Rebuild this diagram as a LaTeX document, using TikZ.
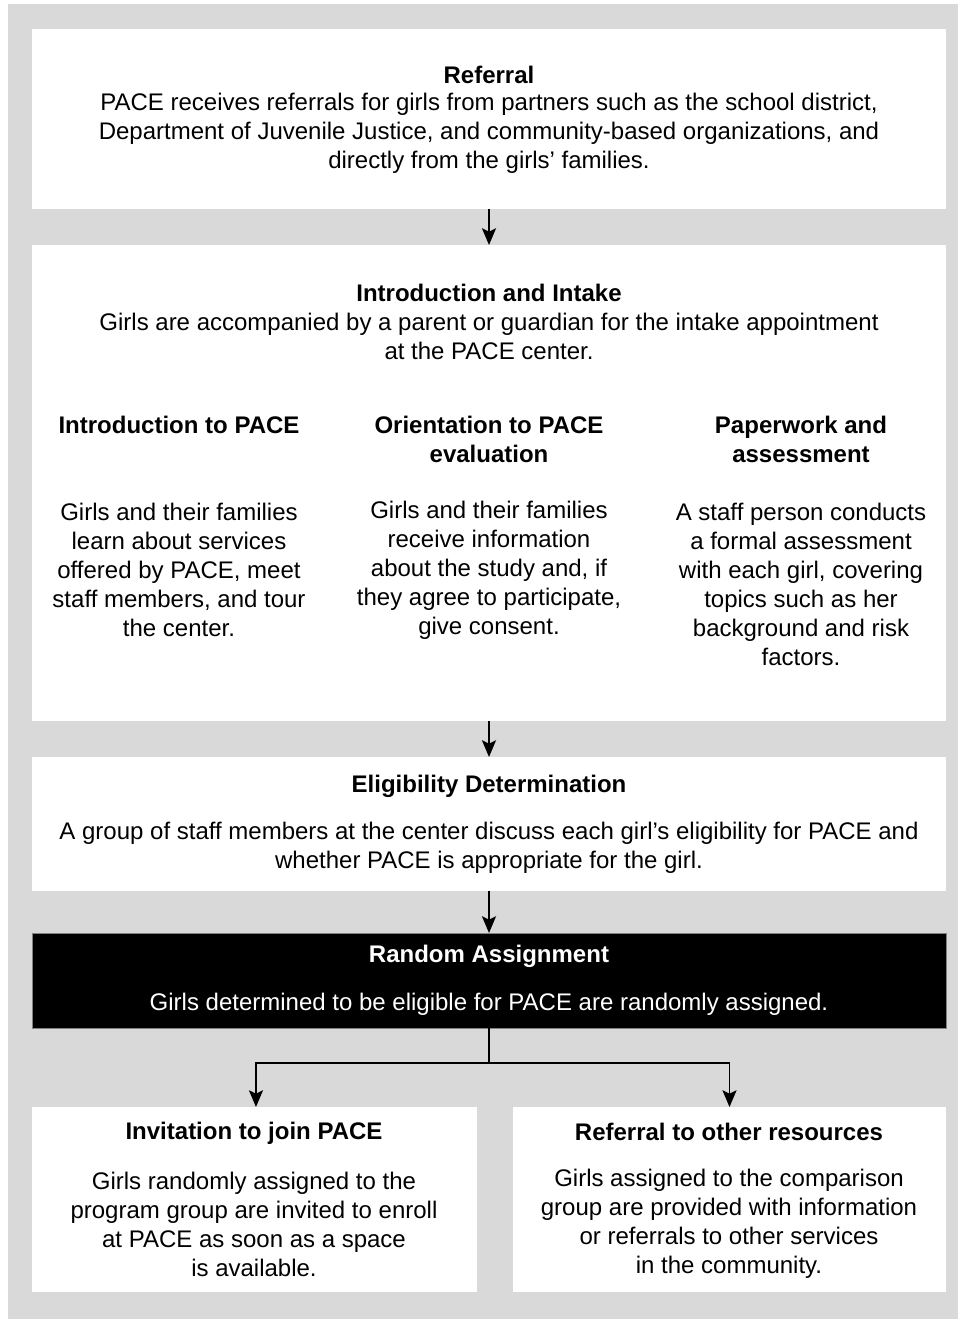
\documentclass[tikz,border=0pt]{standalone}
\usepackage{fontspec}
\setmainfont{Liberation Sans}
\usetikzlibrary{arrows.meta}
\definecolor{bggray}{RGB}{217,217,217}
\tikzset{
  box/.style={fill=white, draw=none, inner sep=0pt, outer sep=0pt},
  darkbox/.style={fill=black, draw=bggray!60!black, line width=0.5pt, inner sep=0pt, outer sep=0pt},
  txt/.style={align=center, inner sep=0pt, font=\fontsize{18}{21.75}\selectfont},
  ttl/.style={txt, font=\fontsize{18}{21.75}\selectfont\bfseries},
  arr/.style={line width=1.4pt, -{Stealth[length=12.5pt, width=10.5pt, inset=2.5pt]}},
  conn/.style={line width=1.4pt}
}
\begin{document}
\begin{tikzpicture}[x=0.75pt, y=-0.75pt]
\useasboundingbox (0,0) rectangle (958,1319);
\fill[white] (0,0) rectangle (958,1319);
\fill[bggray] (8,4) rectangle (958,1319);

% boxes
\node[box, minimum width=685.5pt, minimum height=135pt] (ref) at (489,119) {};
\node[box, minimum width=685.5pt, minimum height=357pt] (intro) at (489,483) {};
\node[box, minimum width=685.5pt, minimum height=100.5pt] (elig) at (489,824) {};
\node[darkbox, minimum width=685.5pt, minimum height=71.25pt] (rand) at (489,980.5) {};
\node[box, minimum width=333.75pt, minimum height=138.75pt] (bl) at (254.5,1199.5) {};
\node[box, minimum width=324.75pt, minimum height=138.75pt] (br) at (729.5,1199.5) {};

% texts
\node[ttl] (refT) at (489,75) {Referral};
\node[txt] (refB) at (489,133) {PACE receives referrals for girls from partners such as the school district,\\Department of Juvenile Justice, and community-based organizations, and\\directly from the girls’ families.};

\node[ttl] (introT) at (489,293) {Introduction and Intake};
\node[txt] (introB) at (489,336.5) {Girls are accompanied by a parent or guardian for the intake appointment\\at the PACE center.};

\node[ttl] (c1T) at (179,425) {Introduction to PACE};
\node[ttl] (c2T) at (489,439.5) {Orientation to PACE\\evaluation};
\node[ttl] (c3T) at (801,439.5) {Paperwork and\\assessment};

\node[txt] (c1B) at (179,570) {Girls and their families\\learn about services\\offered by PACE, meet\\staff members, and tour\\the center.};
\node[txt] (c2B) at (489,570) {Girls and their families\\receive information\\about the study and, if\\they agree to participate,\\give consent.};
\node[txt] (c3B) at (801,584.5) {A staff person conducts\\a formal assessment\\with each girl, covering\\topics such as her\\background and risk\\factors.};

\node[ttl] (eligT) at (489,786) {Eligibility Determination};
\node[txt] (eligB) at (489,848) {A group of staff members at the center discuss each girl’s eligibility for PACE and\\whether PACE is appropriate for the girl.};

\node[ttl, text=white] (randT) at (489,956) {Random Assignment};
\node[txt, text=white] (randB) at (489,1004) {Girls determined to be eligible for PACE are randomly assigned.};

\node[ttl] (blT) at (254,1133) {Invitation to join PACE};
\node[txt] (blB) at (254,1224.5) {Girls randomly assigned to the\\program group are invited to enroll\\at PACE as soon as a space\\is available.};

\node[ttl] (brT) at (729,1132) {Referral to other resources};
\node[txt] (brB) at (729,1223.5) {Girls assigned to the comparison\\group are provided with information\\or referrals to other services\\in the community.};

% connectors
\draw[arr] (ref.south) -- (intro.north);
\draw[arr] (intro.south) -- (elig.north);
\draw[arr] (elig.south) -- (rand.north);
\coordinate (split) at (489,1063);
\draw[conn] (rand.south) -- (split);
\draw[arr] (split) -| ([xshift=1.1pt]bl.north);
\draw[arr] (split) -| (br.north);
\end{tikzpicture}
\end{document}
